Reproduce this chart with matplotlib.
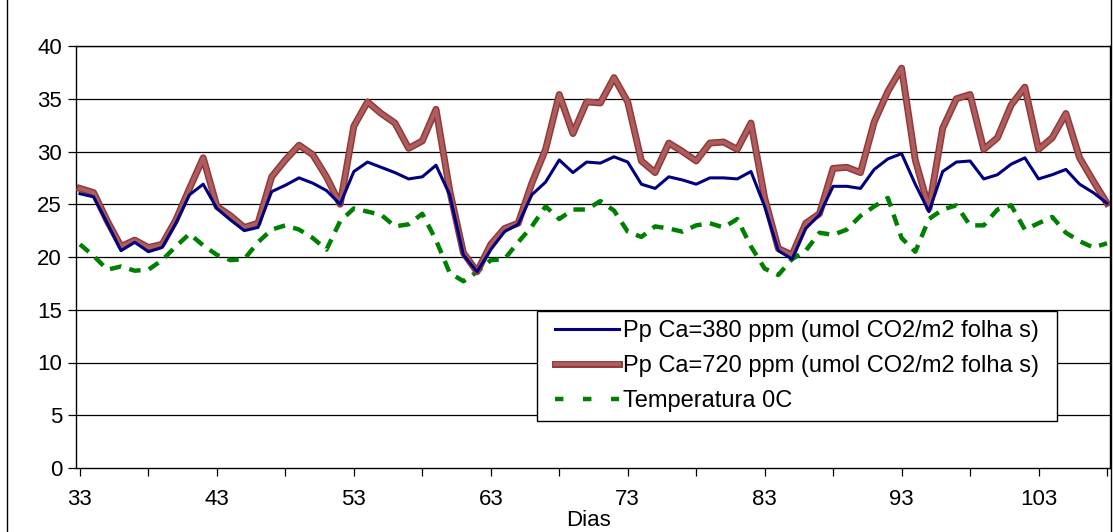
import numpy as np
import matplotlib
matplotlib.use('Agg')
import matplotlib.pyplot as plt
import matplotlib.patheffects as pe
from matplotlib.lines import Line2D
from matplotlib.patches import Rectangle

plt.rcParams['font.family'] = ['Liberation Sans', 'DejaVu Sans']

dias = list(range(33, 109))

pp_380 = [26.0, 25.7, 23.2, 20.6, 21.4, 20.5, 20.9, 23.2, 25.9, 26.9,
          24.6, 23.5, 22.5, 22.8, 26.2, 26.8, 27.5, 27.0, 26.3, 25.0,
          28.1, 29.0, 28.5, 28.0, 27.4, 27.6, 28.7, 25.9, 20.2, 18.6,
          20.7, 22.4, 23.1, 25.9, 27.1, 29.2, 28.0, 29.0, 28.9, 29.5,
          29.0, 26.9, 26.5, 27.6, 27.3, 26.9, 27.5, 27.5, 27.4, 28.1,
          24.8, 20.6, 19.8, 22.7, 24.0, 26.7, 26.7, 26.5, 28.3, 29.3,
          29.8, 26.9, 24.3, 28.1, 29.0, 29.1, 27.4, 27.8, 28.8, 29.4,
          27.4, 27.8, 28.3, 26.9, 26.1, 25.1]

pp_720 = [26.5, 26.1, 23.4, 21.0, 21.6, 20.9, 21.2, 23.5, 26.5, 29.4,
          24.8, 23.9, 22.8, 23.2, 27.6, 29.2, 30.6, 29.7, 27.6, 25.0,
          32.4, 34.7, 33.6, 32.7, 30.3, 31.0, 34.0, 26.3, 20.4, 18.6,
          21.2, 22.7, 23.2, 27.0, 30.2, 35.4, 31.7, 34.7, 34.6, 37.0,
          34.7, 29.1, 28.0, 30.8, 30.0, 29.1, 30.8, 30.9, 30.2, 32.7,
          25.6, 20.8, 20.2, 23.2, 24.1, 28.4, 28.5, 28.0, 32.8, 35.7,
          37.9, 29.2, 24.6, 32.2, 35.0, 35.4, 30.2, 31.3, 34.4, 36.1,
          30.2, 31.3, 33.6, 29.4, 27.2, 25.1]

temperatura = [21.2, 20.1, 18.8, 19.1, 18.7, 18.8, 19.7, 21.0, 22.2, 21.1,
               20.2, 19.7, 19.8, 21.4, 22.6, 23.0, 22.6, 21.8, 20.7, 23.4,
               24.6, 24.3, 24.0, 22.9, 23.1, 24.1, 21.6, 18.5, 17.7, 18.6,
               19.7, 19.8, 21.4, 22.9, 24.8, 23.6, 24.5, 24.5, 25.3, 24.4,
               22.4, 21.9, 22.9, 22.7, 22.4, 23.0, 23.2, 22.8, 23.6, 21.0,
               18.9, 18.3, 19.8, 20.6, 22.3, 22.1, 22.6, 23.9, 24.8, 25.6,
               21.8, 20.5, 23.6, 24.5, 24.9, 23.0, 23.0, 24.5, 24.9, 22.6,
               23.2, 23.8, 22.3, 21.5, 20.9, 21.3]

labels = ['Pp Ca=380 ppm (umol CO2/m2 folha s)',
          'Pp Ca=720 ppm (umol CO2/m2 folha s)',
          'Temperatura 0C']

x = np.arange(len(dias))

W, H = 1113, 532
fig = plt.figure(figsize=(W / 100, H / 100), dpi=100)
ax = fig.add_axes([76 / W, 1 - 468 / H, (1110 - 76) / W, (468 - 46) / H])

for v in range(5, 45, 5):
    ax.axhline(v, color='black', lw=0.9, zorder=1)

red_fx = [pe.Stroke(linewidth=5.0, foreground='#8E3B3B'), pe.Normal()]
ax.plot(x, temperatura, color='#008000', lw=3.2, dashes=(2.6, 1.9), zorder=2)
ax.plot(x, pp_720, color='#B05C5C', lw=2.8, path_effects=red_fx, zorder=3)
ax.plot(x, pp_380, color='#000080', lw=2.2, zorder=4)

ax.set_xlim(-0.29, 75.22)
ax.set_ylim(0, 40)
ax.set_yticks(range(0, 45, 5))
ax.set_xticks(x[::10])
ax.set_xticklabels([str(d) for d in dias[::10]])
ax.set_xticks(x[::5], minor=True)
ax.tick_params(axis='both', which='both', direction='out', length=6, width=0.9,
               labelsize=16, colors='black')
ax.tick_params(axis='x', pad=9)
ax.tick_params(axis='y', pad=4)
for s in ax.spines.values():
    s.set_linewidth(1.0)
    s.set_color('black')

fig.text(588 / W, 1 - 521 / H, 'Dias', fontsize=16, ha='center', va='center')

# legend box drawn by hand so the inner padding matches
fig.add_artist(Rectangle((537 / W, 1 - 421 / H), (1057 - 537) / W, (421 - 311) / H,
                         transform=fig.transFigure, facecolor='white',
                         edgecolor='black', lw=1.0, zorder=5))
handles = [
    Line2D([], [], color='#000080', lw=2.2),
    Line2D([], [], color='#B05C5C', lw=2.8, path_effects=red_fx),
    Line2D([], [], color='#008000', lw=3.2, dashes=(1.9, 4.4)),
]
leg = fig.legend(handles, labels, loc='center left',
                 bbox_to_anchor=(555 / W, 1 - 366 / H),
                 fontsize=17, frameon=False, handlelength=2.7, handletextpad=0.2,
                 labelspacing=0.55, borderpad=0, borderaxespad=0)
leg.set_zorder(6)

fig.add_artist(Line2D([7 / W, 7 / W], [0, 1], color='black', lw=1.0))
fig.add_artist(Line2D([1111 / W, 1111 / W], [0, 1], color='black', lw=1.0))

fig.savefig('out.png', dpi=100)
